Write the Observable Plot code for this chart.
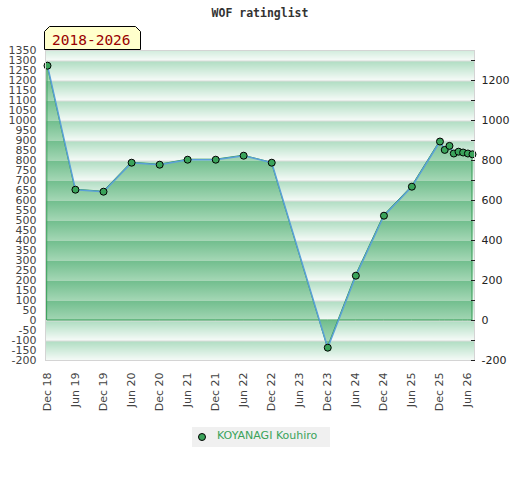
<!DOCTYPE html>
<html>
<head>
<meta charset="utf-8">
<script src="https://cdn.jsdelivr.net/npm/d3@7"></script>
<script src="https://cdn.jsdelivr.net/npm/@observablehq/plot@0.6"></script>
<style>
  body { margin: 0; background: #fff; }
  #wrap { position: relative; width: 520px; }
  #title { height: 25px; font: bold 11.5px "DejaVu Sans Mono", monospace; color: #333; text-align: center; line-height: 27px; }
  #chart svg { display: block; }
  #badge { position: absolute; left: 44px; top: 26px; }
  #legend { margin: 12px 0 0 192px; width: 138px; height: 20px; background: #f0f0f0; position: relative; }
  #legend svg { position: absolute; left: 5px; top: 5px; }
  #legend span { position: absolute; left: 25px; top: 2px; font: 11px "DejaVu Sans", sans-serif; color: #3aa35a; white-space: nowrap; }
</style>
</head>
<body>
<div id="wrap">
  <div id="title"></div>
  <div id="chart"></div>
  <div id="legend"><svg width="10" height="10"><circle cx="5" cy="5" r="3.5" fill="#3aa35a" stroke="#000" stroke-width="1"></circle></svg><span id="legendText"></span></div>
  <svg id="badge" width="98" height="25"><path d="M0.5,23.5 V5.5 L5.5,0.5 H91.5 L96.5,5.5 V23.5 Z" fill="#ffffcc" stroke="#000" stroke-width="1"></path><text id="badgeText" x="8" y="18.5" font-family="DejaVu Sans Mono, monospace" font-size="14.5" fill="#990000"></text></svg>
</div>
<script>
// ---- data ----
const chartTitle = "WOF ratinglist";
const periodLabel = "2018-2026";
const playerName = "KOYANAGI Kouhiro";

const dates = [
  "2018-12", "2019-06", "2019-12", "2020-06", "2020-12", "2021-06", "2021-12",
  "2022-06", "2022-12", "2023-12", "2024-06", "2024-12", "2025-06", "2025-12",
  "2026-01", "2026-02", "2026-03", "2026-04", "2026-05", "2026-06", "2026-07"
];
const ratings = [
  1274, 654, 644, 789, 779, 804, 804,
  824, 789, -136, 224, 524, 669, 895,
  853, 873, 835, 844, 840, 835, 831
];

const xTickDates = [
  "2018-12", "2019-06", "2019-12", "2020-06", "2020-12", "2021-06", "2021-12", "2022-06",
  "2022-12", "2023-06", "2023-12", "2024-06", "2024-12", "2025-06", "2025-12", "2026-06"
];
const leftTicks = [
  -200, -150, -100, -50, 0, 50, 100, 150, 200, 250, 300, 350, 400, 450, 500, 550, 600,
  650, 700, 750, 800, 850, 900, 950, 1000, 1050, 1100, 1150, 1200, 1250, 1300, 1350
];
const rightTicks = [-200, 0, 200, 400, 600, 800, 1000, 1200];
const rightMinorTicks = [-100, 100, 300, 500, 700, 900, 1100, 1300];
const yDomain = [-200, 1350];

// ---- build ----
const parse = s => new Date(s + "-01T00:00:00Z");
const data = dates.map((d, i) => ({date: parse(d), rating: ratings[i]}));
const tickDates = xTickDates.map(parse);
const fmt = d3.utcFormat("%b %y");

document.getElementById("title").textContent = chartTitle;
document.getElementById("badgeText").textContent = periodLabel;
document.getElementById("legendText").textContent = playerName;

const chart = Plot.plot({
  width: 520,
  height: 390,
  marginTop: 25,
  marginBottom: 55,
  marginLeft: 45,
  marginRight: 46,
  style: {fontFamily: "DejaVu Sans, sans-serif", fontSize: "11px", color: "#333", background: "transparent", overflow: "visible"},
  x: {type: "utc", insetLeft: 2, insetRight: 2, label: null},
  y: {domain: yDomain, label: null},
  marks: [
    Plot.frame({fill: "url(#bgStripes)", stroke: null}),
    Plot.areaY(data, {x: "date", y: "rating", fill: "url(#areaStripes)", stroke: "#2f9a50", strokeWidth: 1}),
    Plot.lineY(data, {x: "date", y: "rating", stroke: "#5ba0d8", strokeWidth: 1.5}),
    Plot.dot(data, {x: "date", y: "rating", r: 3.5, fill: "#3aa35a", stroke: "#000", strokeWidth: 1}),
    Plot.frame({stroke: "#d4d4d4"}),
    Plot.axisY(leftTicks, {anchor: "left", tickSize: 0, tickPadding: 9, tickFormat: d => String(d), label: null, fill: "#444"}),
    Plot.axisY(rightTicks, {anchor: "right", tickSize: -4, tickPadding: 11, tickFormat: d => String(d), label: null, color: "#222"}),
    Plot.axisY(rightMinorTicks, {anchor: "right", tickSize: -4, tickFormat: () => "", label: null, color: "#222"}),
    Plot.axisX(tickDates, {tickRotate: -90, tickSize: 0, tickPadding: 12, tickFormat: fmt, label: null, fill: "#444"})
  ]
});
document.getElementById("chart").appendChild(chart);

// striped gradient patterns aligned to 100-unit bands of the y scale
const ys = chart.scale("y");
const y0 = ys.apply(0);
const period = ys.apply(0) - ys.apply(100);
const defs = d3.select(chart).insert("defs", ":first-child");
function stripes(id, line, top, bottom) {
  const g = defs.append("linearGradient").attr("id", id + "G")
    .attr("x1", 0).attr("y1", 0).attr("x2", 0).attr("y2", 1);
  g.append("stop").attr("offset", 0).attr("stop-color", top);
  g.append("stop").attr("offset", 1).attr("stop-color", bottom);
  const p = defs.append("pattern").attr("id", id).attr("patternUnits", "userSpaceOnUse")
    .attr("x", 0).attr("y", y0).attr("width", 520).attr("height", period);
  p.append("rect").attr("width", 520).attr("height", period).attr("fill", `url(#${id}G)`);
  p.append("rect").attr("width", 520).attr("height", 1).attr("fill", line);
}
stripes("bgStripes", "#d9dcda", "#addcc0", "#f6fbf8");
stripes("areaStripes", "#a6d5b6", "#6fbd8c", "#a3d6b4");
</script>
</body>
</html>
